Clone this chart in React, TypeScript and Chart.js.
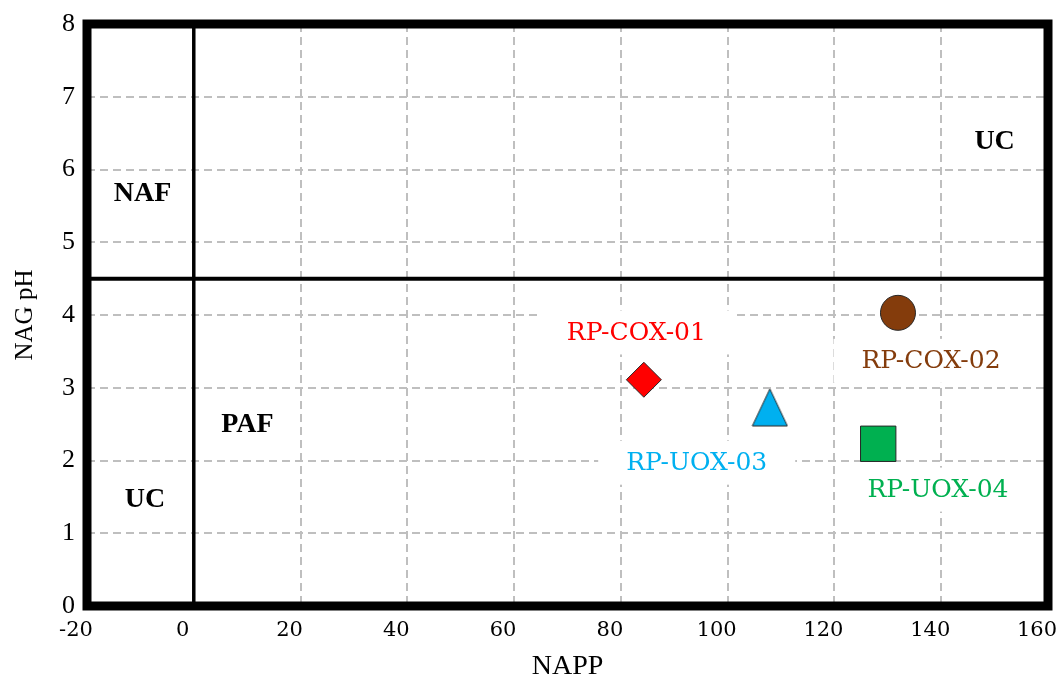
import React, { useEffect, useRef } from 'react';
import { Chart, registerables } from 'chart.js';

Chart.register(...registerables);

// ---- data ----
const sampleNames = ['RP-COX-01', 'RP-COX-02', 'RP-UOX-03', 'RP-UOX-04'];
const nappValues = [84.3, 131.9, 107.9, 128.2];
const nagPhValues = [3.11, 4.03, 2.73, 2.23];
const sampleColors = ['#FF0000', '#843C0C', '#00B0F0', '#00B050'];
const sampleShapes = ['rectRot', 'circle', 'triangle', 'rect'];

const xTickValues = [-20, 0, 20, 40, 60, 80, 100, 120, 140, 160];
const yTickValues = [0, 1, 2, 3, 4, 5, 6, 7, 8];
const xMin = -20;
const xMax = 160;
const yMin = 0;
const yMax = 8;

const nappThreshold = 0;
const phThreshold = 4.5;

const regionNames = ['NAF', 'UC', 'PAF', 'UC'];

// ---- annotation anchors (data coordinates) ----
const sampleLabelAnchors = [
  [82.9, 3.76],
  [138.1, 3.37],
  [94.2, 1.97],
  [139.4, 1.6],
];
const regionLabelAnchors = [
  [-9.6, 5.68],
  [150, 6.4],
  [10.06, 2.51],
  [-9.14, 1.48],
];

const SERIF = "'Liberation Serif', 'Times New Roman', serif";
const SERIF2 = "'DejaVu Serif', serif";

export default function App() {
  const ref = useRef<HTMLCanvasElement>(null);

  useEffect(() => {
    document.body.style.margin = '0';
    const canvas = ref.current!;

    const tri = document.createElement('canvas');
    tri.width = 37;
    tri.height = 39;
    const tctx = tri.getContext('2d')!;
    tctx.beginPath();
    tctx.moveTo(18.5, 1);
    tctx.lineTo(36, 38);
    tctx.lineTo(1, 38);
    tctx.closePath();
    tctx.fillStyle = sampleColors[2];
    tctx.fill();
    tctx.strokeStyle = '#262626';
    tctx.lineWidth = 1;
    tctx.stroke();

    const pointDatasets = sampleNames.map((name, i) => ({
      label: name,
      data: [{ x: nappValues[i], y: nagPhValues[i] }],
      pointStyle: sampleShapes[i] === 'triangle' ? tri : sampleShapes[i],
      pointRadius: sampleShapes[i] === 'rect' ? 25 : 17.5,
      backgroundColor: sampleColors[i],
      borderColor: '#262626',
      borderWidth: 1,
      showLine: false,
      order: 1,
    }));

    const lineDatasets = [
      {
        label: 'NAPP = 0',
        data: [
          { x: nappThreshold, y: yMin },
          { x: nappThreshold, y: yMax },
        ],
        showLine: true,
        borderColor: '#000',
        borderWidth: 3.5,
        pointRadius: 0,
        order: 2,
      },
      {
        label: 'NAG pH = 4.5',
        data: [
          { x: xMin, y: phThreshold },
          { x: xMax, y: phThreshold },
        ],
        showLine: true,
        borderColor: '#000',
        borderWidth: 4,
        pointRadius: 0,
        order: 2,
      },
    ];

    const labelsPlugin = {
      id: 'labelsPlugin',
      beforeDatasetsDraw(chart: any) {
        const { ctx, scales } = chart;
        ctx.save();
        ctx.textAlign = 'center';
        ctx.textBaseline = 'middle';
        ctx.font = `25px ${SERIF2}`;
        sampleNames.forEach((name, i) => {
          const px = scales.x.getPixelForValue(sampleLabelAnchors[i][0]);
          const py = scales.y.getPixelForValue(sampleLabelAnchors[i][1]);
          const w = ctx.measureText(name).width;
          ctx.fillStyle = '#FFFFFF';
          ctx.fillRect(px - w / 2 - 28, py - 22, w + 56, 44);
          ctx.fillStyle = sampleColors[i];
          ctx.fillText(name, px, py + 1);
        });
        ctx.font = `bold 28px ${SERIF}`;
        ctx.fillStyle = '#000';
        regionNames.forEach((name, i) => {
          const px = scales.x.getPixelForValue(regionLabelAnchors[i][0]);
          const py = scales.y.getPixelForValue(regionLabelAnchors[i][1]);
          ctx.fillText(name, px, py + 1);
        });
        ctx.restore();
      },
      afterDraw(chart: any) {
        const { ctx, chartArea } = chart;
        ctx.save();
        ctx.strokeStyle = '#000';
        ctx.lineWidth = 9;
        ctx.strokeRect(
          chartArea.left,
          chartArea.top,
          chartArea.right - chartArea.left,
          chartArea.bottom - chartArea.top
        );
        ctx.restore();
      },
    };

    const chart = new Chart(canvas, {
      type: 'scatter',
      data: { datasets: [...pointDatasets, ...lineDatasets] as any },
      options: {
        responsive: false,
        animation: false,
        devicePixelRatio: 1,
        layout: { autoPadding: false, padding: { top: 24, right: 8, left: 0, bottom: 0 } },
        plugins: {
          legend: { display: false },
          tooltip: { enabled: false },
        },
        scales: {
          x: {
            type: 'linear',
            min: xMin,
            max: xMax,
            afterBuildTicks: (s: any) => {
              s.ticks = xTickValues.map((v) => ({ value: v }));
            },
            afterFit: (s: any) => {
              s.height = 73;
              s.paddingLeft = 0;
              s.paddingRight = 0;
            },
            grid: { color: '#BFBFBF', lineWidth: 2, drawTicks: false },
            border: { display: false, dash: [8, 5] },
            ticks: {
              font: { family: SERIF2, size: 21 },
              color: '#000',
              padding: 12,
              labelOffset: -11,
              maxRotation: 0,
              autoSkip: false,
            },
            title: {
              display: true,
              text: 'NAPP',
              color: '#000',
              font: { family: SERIF, size: 28, lineHeight: 0.85 },
              padding: { top: 0, bottom: 0 },
            },
          },
          y: {
            type: 'linear',
            min: yMin,
            max: yMax,
            afterBuildTicks: (s: any) => {
              s.ticks = yTickValues.map((v) => ({ value: v }));
            },
            afterFit: (s: any) => {
              s.width = 87;
              s.paddingTop = 0;
              s.paddingBottom = 0;
            },
            grid: { color: '#BFBFBF', lineWidth: 2, drawTicks: false },
            border: { display: false, dash: [8, 5] },
            ticks: {
              font: { family: SERIF, size: 26 },
              color: '#000',
              padding: 12,
              autoSkip: false,
            },
            title: {
              display: true,
              text: 'NAG pH',
              color: '#000',
              font: { family: SERIF, size: 25, lineHeight: 1.2 },
              padding: { top: 10, bottom: 0 },
            },
          },
        },
      },
      plugins: [labelsPlugin],
    });

    return () => chart.destroy();
  }, []);

  return (
    <canvas
      ref={ref}
      width={1056}
      height={679}
      style={{ display: 'block', width: 1056, height: 679 }}
    />
  );
}
